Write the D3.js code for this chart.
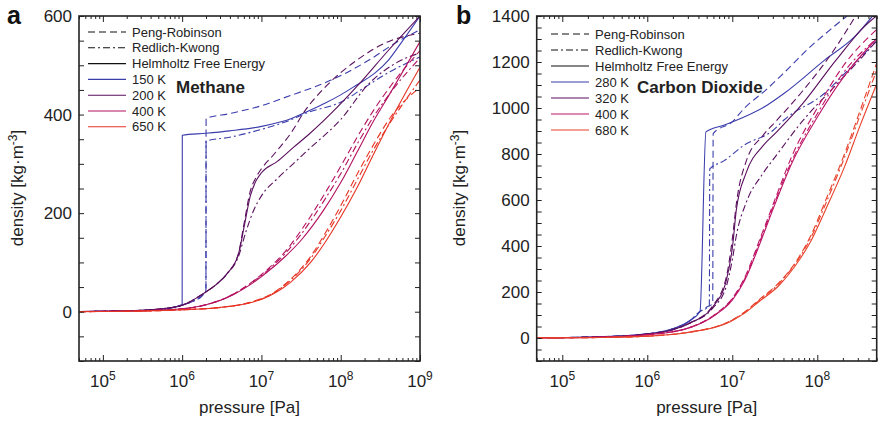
<!DOCTYPE html>
<meta charset="utf-8">
<head>
<script src="https://d3js.org/d3.v7.min.js"></script>
<style>
body { margin: 0; background: #fff; font-family: "Liberation Sans", Arial, Helvetica, sans-serif; }
.tick line { stroke: #222; stroke-width: 1; }
.axis path { display: none; }
.axis text { font: 17px "Liberation Sans", Arial, sans-serif; fill: #222; }
.frame { fill: none; stroke: #222; stroke-width: 1.6; }
.curve { fill: none; stroke-width: 1.1; }
.leg { font: 13px "Liberation Sans", Arial, sans-serif; fill: #222; }
</style>
</head>
<body>
<script>

// points are [log10 pressure in Pa, density in kg/m3]

// ---- a: Methane ----
var m150H  = [[4.7,0.4],[5,0.8],[5.5,2.5],[5.8,6],[6,14],[6.002,358],[6.3,362],[6.6,367],[7,376],[7.38,392],[7.6,408],[7.8,423],[8,440],[8.2,460],[8.43,484],[8.6,510],[8.76,545],[9,600]];
var m150PR = [[4.7,0.4],[5,0.8],[5.5,2.5],[5.8,6],[6,14],[6.15,22],[6.25,32],[6.3,43],[6.302,392],[6.6,402],[7,418],[7.37,439],[7.6,452],[7.88,470],[8.3,505],[8.76,552],[9,572]];
var m150RK = [[4.7,0.4],[5,0.8],[5.5,2.5],[5.8,6],[6,14],[6.15,22],[6.25,32],[6.3,43],[6.302,346],[6.6,354],[7,370],[7.3,385],[7.6,405],[8,425],[8.3,455],[8.6,485],[9,517]];

var m200H  = [[4.7,0.4],[5,0.9],[5.5,3],[5.8,7],[6,13],[6.27,37],[6.45,58],[6.57,78],[6.71,117],[6.78,171],[6.86,235],[6.93,265],[7,282],[7.2,305],[7.4,333],[7.6,360],[8,422],[8.21,458],[8.6,530],[9,600]];
var m200PR = [[4.7,0.4],[5,0.9],[5.5,3],[5.8,7],[6,13],[6.27,37],[6.45,58],[6.57,78],[6.71,118],[6.78,178],[6.86,245],[6.93,272],[7,290],[7.15,318],[7.37,362],[7.55,408],[7.8,455],[8.2,510],[8.6,548],[9,565]];
var m200RK = [[4.7,0.4],[5,0.9],[5.5,3],[5.8,7],[6,13],[6.27,37],[6.45,58],[6.57,77],[6.71,112],[6.8,160],[6.9,205],[7,235],[7.2,270],[7.4,300],[7.6,330],[8,390],[8.34,460],[8.76,510],[9,525]];

var m400H  = [[4.7,0.3],[5,0.6],[5.5,2],[6,6],[6.3,14],[6.65,35],[6.86,55],[7.07,80],[7.3,112],[7.5,145],[7.78,205],[8,262],[8.21,325],[8.4,383],[8.63,445],[9,548]];
var m400PR = [[4.7,0.3],[5,0.6],[5.5,2],[6,6],[6.3,14],[6.65,36],[6.86,58],[7.07,85],[7.3,122],[7.5,165],[7.8,240],[8,295],[8.2,352],[8.4,405],[8.63,458],[9,530]];
var m400RK = [[4.7,0.3],[5,0.6],[5.5,2],[6,6],[6.3,14],[6.65,36],[6.86,57],[7.07,83],[7.3,118],[7.5,157],[7.8,228],[8,280],[8.2,338],[8.4,392],[8.63,445],[9,515]];

var m650H  = [[4.7,0.2],[5,0.4],[5.5,1.3],[6,4],[6.5,9],[6.86,18],[7.1,32],[7.28,49],[7.37,60],[7.62,100],[7.8,140],[8,192],[8.21,253],[8.4,315],[8.63,388],[9,496]];
var m650PR = [[4.7,0.2],[5,0.4],[5.5,1.3],[6,4],[6.5,9],[6.86,19],[7.1,34],[7.37,66],[7.62,112],[7.8,158],[8,215],[8.21,280],[8.4,335],[8.63,395],[9,455]];
var m650RK = [[4.7,0.2],[5,0.4],[5.5,1.3],[6,4],[6.5,9],[6.86,19],[7.1,33],[7.37,64],[7.62,108],[7.8,152],[8,205],[8.21,268],[8.4,325],[8.63,385],[9,470]];

// ---- b: Carbon Dioxide ----
var c280H  = [[4.7,1],[5,2],[5.5,6],[6,18],[6.3,40],[6.5,75],[6.62,115],[6.69,896],[6.9,925],[7.145,962],[7.4,1010],[7.615,1065],[8.086,1208],[8.439,1310],[8.65,1400]];
var c280PR = [[4.7,1],[5,2],[5.5,6],[6,18],[6.3,40],[6.5,75],[6.62,115],[6.7,135],[6.77,150],[6.775,889],[7,940],[7.145,1000],[7.4,1080],[7.6,1150],[7.9,1260],[8.15,1340],[8.35,1400]];
var c280RK = [[4.7,1],[5,2],[5.5,6],[6,18],[6.3,40],[6.5,75],[6.62,115],[6.7,130],[6.73,140],[6.735,735],[6.9,770],[7.145,840],[7.47,900],[7.615,950],[8.086,1064],[8.4,1180],[8.694,1290]];

var c320H  = [[4.7,1],[5,1.7],[5.5,5],[6,17],[6.3,36],[6.5,65],[6.77,135],[6.93,251],[7.007,411],[7.047,556],[7.165,720],[7.36,835],[7.52,895],[7.83,1020],[8.22,1208],[8.55,1353],[8.694,1400]];
var c320PR = [[4.7,1],[5,1.7],[5.5,5],[6,17],[6.3,36],[6.5,65],[6.77,140],[6.93,265],[7,430],[7.05,590],[7.165,770],[7.36,880],[7.52,945],[7.83,1075],[8.22,1265],[8.45,1400]];
var c320RK = [[4.7,1],[5,1.7],[5.5,5],[6,17],[6.3,36],[6.5,64],[6.77,130],[6.93,225],[7,340],[7.05,450],[7.165,590],[7.36,715],[7.52,795],[7.83,945],[8.22,1100],[8.5,1210],[8.694,1290]];

var c400H  = [[4.7,0.7],[5,1.3],[5.5,4],[6,14],[6.5,45],[6.8,100],[7,165],[7.145,250],[7.34,425],[7.5,580],[7.7,760],[8,960],[8.3,1130],[8.694,1300]];
var c400PR = [[4.7,0.7],[5,1.3],[5.5,4],[6,14],[6.5,46],[6.8,104],[7,172],[7.145,262],[7.34,445],[7.5,600],[7.7,790],[8,1000],[8.3,1180],[8.694,1340]];
var c400RK = [[4.7,0.7],[5,1.3],[5.5,4],[6,14],[6.5,46],[6.8,102],[7,170],[7.145,256],[7.34,435],[7.5,590],[7.7,770],[8,975],[8.3,1150],[8.694,1300]];

var c680H  = [[4.7,0.4],[5,0.8],[5.5,2.5],[6,8],[6.5,25],[6.97,70],[7.145,108],[7.32,160],[7.54,225],[7.79,340],[7.93,425],[8.1,560],[8.32,744],[8.5,920],[8.694,1100]];
var c680PR = [[4.7,0.4],[5,0.8],[5.5,2.5],[6,8],[6.5,26],[6.97,73],[7.145,113],[7.32,168],[7.54,237],[7.79,355],[7.93,450],[8.1,600],[8.32,800],[8.5,985],[8.694,1190]];
var c680RK = [[4.7,0.4],[5,0.8],[5.5,2.5],[6,8],[6.5,26],[6.97,72],[7.145,111],[7.32,165],[7.54,233],[7.79,350],[7.93,440],[8.1,585],[8.32,785],[8.5,965],[8.694,1160]];

// labels
var methaneTemps = ["150 K", "200 K", "400 K", "650 K"];
var co2Temps     = ["280 K", "320 K", "400 K", "680 K"];
var modelNames   = ["Peng-Robinson", "Redlich-Kwong", "Helmholtz Free Energy"];
var methaneColors = ["#3b3dab", "#5a0f5e", "#b3105f", "#e63324"];
var co2Colors     = ["#3b3dab", "#5a0f5e", "#bd1566", "#e8402a"];
var dashes = ["7,4", "7,3,2,3", null];

var W = 880, H = 426;
var svg = d3.select("body").append("svg").attr("width", W).attr("height", H);

function panel(opt) {
  var x = d3.scaleLog().domain(opt.xDomain).range([opt.left, opt.right]);
  var y = d3.scaleLinear().domain(opt.yDomain).range([361, 16]);
  var top = 16, bottom = 361;
  var g = svg.append("g");

  // clip
  g.append("clipPath").attr("id", opt.id)
    .append("rect").attr("x", opt.left).attr("y", top)
    .attr("width", opt.right - opt.left).attr("height", bottom - top);

  var line = d3.line()
    .x(function(d) { return x(Math.pow(10, d[0])); })
    .y(function(d) { return y(d[1]); })
    .curve(d3.curveMonotoneX);

  var cg = g.append("g").attr("clip-path", "url(#" + opt.id + ")");
  opt.series.forEach(function(tr, i) {
    // tr = [PR, RK, Helmholtz]
    tr.forEach(function(pts, m) {
      cg.append("path").attr("class", "curve")
        .attr("d", line(pts))
        .attr("stroke", opt.colors[i])
        .attr("stroke-dasharray", dashes[m]);
    });
  });

  // tick values
  var lo = Math.floor(Math.log10(opt.xDomain[0])), hi = Math.ceil(Math.log10(opt.xDomain[1]));
  var majors = [], minors = [];
  for (var e = lo; e <= hi; e++) {
    for (var k = 1; k < 10; k++) {
      var v = k * Math.pow(10, e);
      if (v < opt.xDomain[0] || v > opt.xDomain[1]) continue;
      if (k == 1) majors.push(v); else minors.push(v);
    }
  }
  var yt = d3.range(opt.yDomain[0], opt.yDomain[1] + 1, 50);

  g.append("g").attr("class", "axis").attr("transform", "translate(0," + bottom + ")")
    .call(d3.axisBottom(x).tickValues(majors).tickSize(-6).tickSizeOuter(0).tickFormat(""));
  g.append("g").attr("class", "axis").attr("transform", "translate(0," + bottom + ")")
    .call(d3.axisBottom(x).tickValues(minors).tickSize(-3).tickSizeOuter(0).tickFormat(""));
  g.append("g").attr("class", "axis").attr("transform", "translate(0," + top + ")")
    .call(d3.axisTop(x).tickValues(majors).tickSize(-6).tickSizeOuter(0).tickFormat(""));
  g.append("g").attr("class", "axis").attr("transform", "translate(0," + top + ")")
    .call(d3.axisTop(x).tickValues(minors).tickSize(-3).tickSizeOuter(0).tickFormat(""));
  g.append("g").attr("class", "axis").attr("transform", "translate(" + opt.left + ",0)")
    .call(d3.axisLeft(y).tickValues(yt).tickSize(-5).tickSizeOuter(0).tickPadding(7)
      .tickFormat(function(d) { return d % 200 == 0 ? d : ""; }));
  g.append("g").attr("class", "axis").attr("transform", "translate(" + opt.right + ",0)")
    .call(d3.axisRight(y).tickValues(yt).tickSize(-5).tickSizeOuter(0).tickFormat(""));

  // x labels 10^n
  majors.forEach(function(v) {
    var t = g.append("text").attr("x", x(v)).attr("y", 387)
      .attr("text-anchor", "middle").style("font-size", "17px").attr("fill", "#222");
    t.append("tspan").text("10");
    t.append("tspan").attr("dy", -7).style("font-size", "12px").text(Math.round(Math.log10(v)));
  });

  g.append("rect").attr("class", "frame")
    .attr("x", opt.left).attr("y", top)
    .attr("width", opt.right - opt.left).attr("height", bottom - top);

  // axis titles
  g.append("text").attr("x", (opt.left + opt.right) / 2).attr("y", 413)
    .attr("text-anchor", "middle").style("font-size", "17px").attr("fill", "#222")
    .text("pressure [Pa]");
  var yl = g.append("text")
    .attr("transform", "translate(" + opt.ytitleX + ",188) rotate(-90)")
    .attr("text-anchor", "middle").style("font-size", "17px").attr("fill", "#222");
  yl.append("tspan").text("density [kg·m");
  yl.append("tspan").attr("dy", -6).style("font-size", "12px").text("-3");
  yl.append("tspan").attr("dy", 6).text("]");

  // panel letter
  g.append("text").attr("x", opt.letterX).attr("y", 24)
    .style("font-size", "25px").style("font-weight", "bold").attr("fill", "#111")
    .text(opt.letter);

  // gas name
  g.append("text").attr("x", opt.nameX).attr("y", 93)
    .style("font-size", "17px").style("font-weight", "bold").attr("fill", "#222")
    .text(opt.name);

  // legend
  var entries = modelNames.map(function(n, i) { return {name: n, color: "#111", dash: dashes[i]}; })
    .concat(opt.temps.map(function(n, i) { return {name: n, color: opt.colors[i], dash: null}; }));
  entries.forEach(function(en, i) {
    var ly = opt.legY + i * opt.legStep;
    g.append("line").attr("x1", opt.legX).attr("x2", opt.legX + 38)
      .attr("y1", ly).attr("y2", ly)
      .attr("stroke", en.color).attr("stroke-width", 1.1)
      .attr("stroke-dasharray", en.dash);
    g.append("text").attr("class", "leg").attr("x", opt.legX + 44).attr("y", ly)
      .attr("dy", "0.35em").text(en.name);
  });
}

panel({
  id: "clipA", letter: "a", letterX: 7, name: "Methane", nameX: 176,
  left: 79, right: 420, xDomain: [5e4, 1e9], yDomain: [-100, 600], ytitleX: 23,
  colors: methaneColors, temps: methaneTemps, legX: 88, legY: 32, legStep: 15.8,
  series: [[m150PR, m150RK, m150H], [m200PR, m200RK, m200H], [m400PR, m400RK, m400H], [m650PR, m650RK, m650H]]
});

panel({
  id: "clipB", letter: "b", letterX: 456, name: "Carbon Dioxide", nameX: 637,
  left: 536.7, right: 876.7, xDomain: [5e4, 5e8], yDomain: [-100, 1400], ytitleX: 465,
  colors: co2Colors, temps: co2Temps, legX: 551, legY: 34, legStep: 16,
  series: [[c280PR, c280RK, c280H], [c320PR, c320RK, c320H], [c400PR, c400RK, c400H], [c680PR, c680RK, c680H]]
});

</script>
</body>
